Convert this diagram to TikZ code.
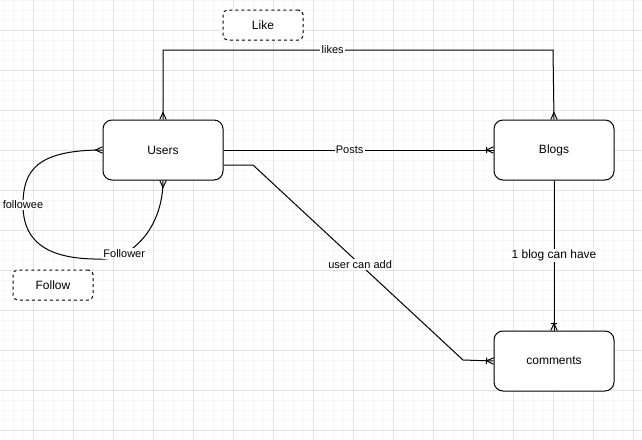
\documentclass[tikz,border=0pt]{standalone}
\usepackage{fontspec}
\setmainfont{Liberation Sans}
\usetikzlibrary{positioning, arrows.meta}

\definecolor{gridminor}{HTML}{F7F7F7}
\definecolor{gridmajor}{HTML}{E2E2E2}

% crow's foot (many) and crow's foot with bar (one or many)
\pgfdeclarearrow{
  name = crowfoot,
  setup code = {
    \pgfarrowssettipend{0pt}
    \pgfarrowssetlineend{0pt}
    \pgfarrowssetbackend{-5.25pt}
    \pgfarrowssetvisualbackend{-5.25pt}
    \pgfarrowshullpoint{0pt}{2.4pt}
    \pgfarrowshullpoint{0pt}{-2.4pt}
    \pgfarrowshullpoint{-5.25pt}{0pt}
  },
  drawing code = {
    \pgfpathmoveto{\pgfqpoint{0pt}{2.4pt}}
    \pgfpathlineto{\pgfqpoint{-5.25pt}{0pt}}
    \pgfpathlineto{\pgfqpoint{0pt}{-2.4pt}}
    \pgfusepathqstroke
  }
}
\pgfdeclarearrow{
  name = crowbar,
  setup code = {
    \pgfarrowssettipend{0pt}
    \pgfarrowssetlineend{0pt}
    \pgfarrowssetbackend{-5.25pt}
    \pgfarrowssetvisualbackend{-5.25pt}
    \pgfarrowshullpoint{0pt}{2.4pt}
    \pgfarrowshullpoint{0pt}{-2.4pt}
    \pgfarrowshullpoint{-5.25pt}{2.4pt}
    \pgfarrowshullpoint{-5.25pt}{-2.4pt}
  },
  drawing code = {
    \pgfpathmoveto{\pgfqpoint{0pt}{2.4pt}}
    \pgfpathlineto{\pgfqpoint{-5.25pt}{0pt}}
    \pgfpathlineto{\pgfqpoint{0pt}{-2.4pt}}
    \pgfpathmoveto{\pgfqpoint{-5.25pt}{2.4pt}}
    \pgfpathlineto{\pgfqpoint{-5.25pt}{-2.4pt}}
    \pgfusepathqstroke
  }
}

\tikzstyle{entity} = [rectangle, rounded corners=6.75pt, minimum width=90pt, minimum height=45pt, text centered, draw=black, line width=0.75pt, fill=white, font=\fontsize{9}{11}\selectfont]
\tikzstyle{notebox} = [rectangle, rounded corners=3.4pt, minimum width=60pt, minimum height=22.5pt, text centered, draw=black, line width=0.75pt, dash pattern=on 2.25pt off 2.25pt, fill=white, font=\fontsize{9}{11}\selectfont]
\tikzstyle{rel} = [line width=0.75pt]
\tikzstyle{lbl} = [fill=white, inner sep=1pt, font=\fontsize{8.25}{10}\selectfont]

\begin{document}
\begin{tikzpicture}[x=0.75pt, y=-0.75pt, node distance=202.5pt]

\useasboundingbox (0,0) rectangle (642,439);

% Grid
\foreach \gx in {3,13,...,643} \draw [gridminor, line width=0.75pt] (\gx,0) -- (\gx,439);
\foreach \gy in {0,10,...,439} \draw [gridminor, line width=0.75pt] (0,\gy) -- (642,\gy);
\foreach \gx in {33,73,...,633} \draw [gridmajor, line width=0.75pt] (\gx,0) -- (\gx,439);
\foreach \gy in {30,70,...,439} \draw [gridmajor, line width=0.75pt] (0,\gy) -- (642,\gy);

% Entities
\node (users) [entity] at (163,150) {Users};
\node (blogs) [entity, right=of users] {Blogs};
\node (comments) [entity, below=112.5pt of blogs] {comments};

% Notes
\node (like) [notebox] at (263,25) {Like};
\node (follow) [notebox] at (53,285) {Follow};

% Helper points
\coordinate (likesL) at (163,50);
\coordinate (likesR) at (553,50);
\coordinate (addA) at ([yshift=-11.25pt]users.east);
\coordinate (addB) at (253,165);
\coordinate (addC) at (463,360);

% Relations
\draw [rel, {crowfoot}-{crowfoot}] (users.north) -- (likesL) -- node[lbl, pos=0.435] {likes} (likesR) -- (blogs.north);
\draw [rel, -{crowbar}] (users.east) -- node[lbl, pos=0.467] {Posts} (blogs.west);
\draw [rel, -{crowbar}] (addA) -- (addB) -- node[lbl, pos=0.51] {user can add} (addC) -- (comments.west);
\draw [rel, -{crowbar}] (blogs.south) -- node[lbl, font=\fontsize{9}{11}\selectfont] {1 blog can have} (comments.north);
\draw [rel, {crowfoot}-{crowfoot}] (users.west) .. controls (35,150) and (23,172) .. (23,205) node[lbl] {followee}
  .. controls (23,250) and (60,260) .. (105,259)
  .. controls (135,257) and (163,225) .. node[lbl, pos=0.22] {Follower} (users.south);

\end{tikzpicture}
\end{document}
